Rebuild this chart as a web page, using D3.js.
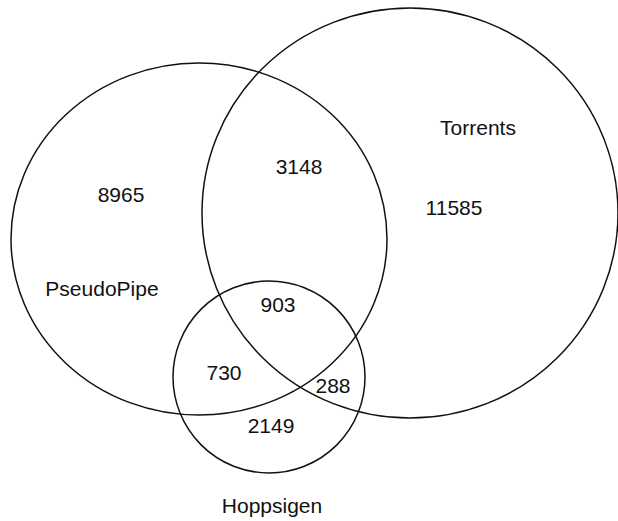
<!DOCTYPE html>
<html>
<head>
<meta charset="utf-8">
<script src="https://cdn.jsdelivr.net/npm/d3@7"></script>
<style>
  body { margin: 0; background: #fff; }
  text { font-family: "Liberation Sans", Arial, sans-serif; fill: #111; }
</style>
</head>
<body>
<svg id="venn" width="618" height="521"></svg>
<script>
// Sets and region counts
const setNames = ["PseudoPipe", "Torrents", "Hoppsigen"];
const regionKeys = ["P", "PT", "T", "PH", "PTH", "TH", "H"];
const regionCounts = [8965, 3148, 11585, 730, 903, 288, 2149];

// Layout (ellipse geometry in a 0..618 x 0..521 space)
const shapes = [
  { set: "PseudoPipe", cx: 199, cy: 239, rx: 188, ry: 176 },
  { set: "Torrents",   cx: 410, cy: 213, rx: 208, ry: 205 },
  { set: "Hoppsigen",  cx: 269, cy: 377, rx: 96,  ry: 96 }
];
const setLabelPos = {
  "PseudoPipe": [102, 296],
  "Torrents":   [478, 135],
  "Hoppsigen":  [272, 513]
};
const regionLabelPos = {
  P: [121, 202], PT: [299, 174], T: [454, 215],
  PH: [224, 380], PTH: [278, 312], TH: [333, 393], H: [271, 433]
};

const svg = d3.select("#venn");
const width = +svg.attr("width");
const height = +svg.attr("height");

const x = d3.scaleLinear().domain([0, 618]).range([0, width]);
const y = d3.scaleLinear().domain([0, 521]).range([0, height]);

// Ellipses
svg.selectAll("ellipse")
  .data(shapes)
  .enter()
  .append("ellipse")
  .attr("cx", d => x(d.cx))
  .attr("cy", d => y(d.cy))
  .attr("rx", d => x(d.rx) - x(0))
  .attr("ry", d => y(d.ry) - y(0))
  .attr("fill", "none")
  .attr("stroke", "#111")
  .attr("stroke-width", 1.5);

// Set names
svg.selectAll("text.set")
  .data(setNames)
  .enter()
  .append("text")
  .attr("class", "set")
  .attr("x", d => x(setLabelPos[d][0]))
  .attr("y", d => y(setLabelPos[d][1]))
  .attr("text-anchor", "middle")
  .style("font-size", "21px")
  .text(d => d);

// Region counts
svg.selectAll("text.count")
  .data(regionKeys.map((k, i) => ({ key: k, value: regionCounts[i] })))
  .enter()
  .append("text")
  .attr("class", "count")
  .attr("x", d => x(regionLabelPos[d.key][0]))
  .attr("y", d => y(regionLabelPos[d.key][1]))
  .attr("text-anchor", "middle")
  .style("font-size", "21px")
  .text(d => d.value);
</script>
</body>
</html>
